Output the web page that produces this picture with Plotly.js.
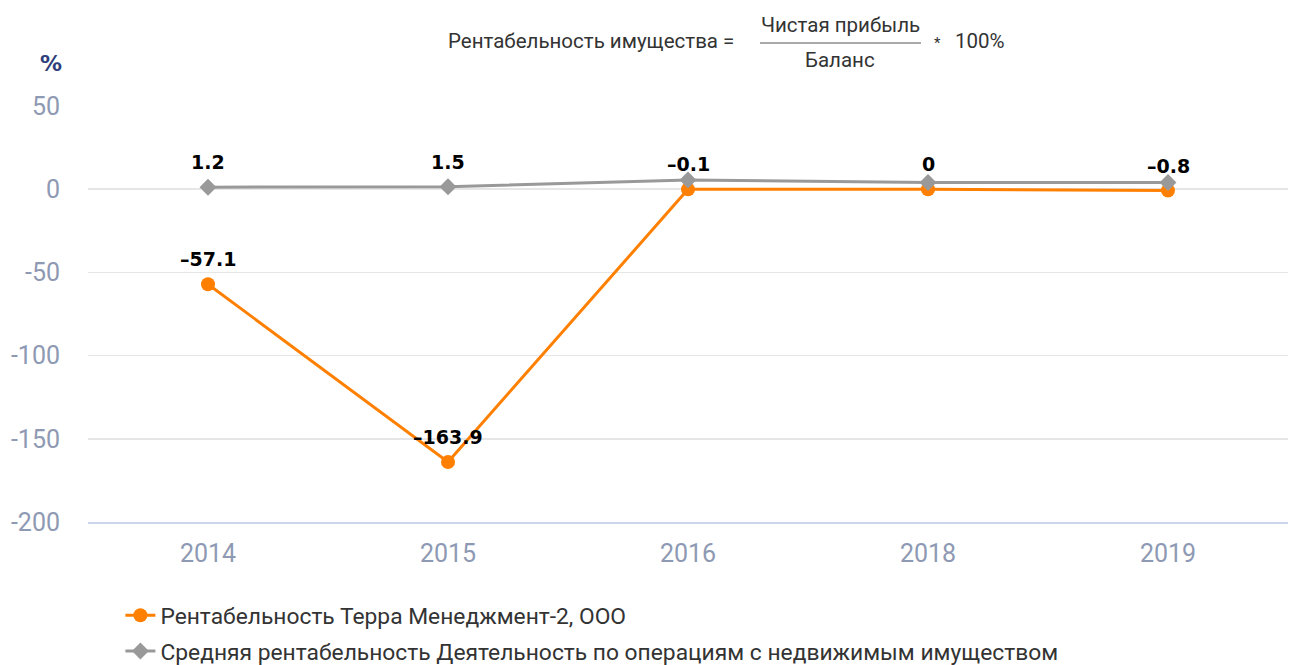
<!DOCTYPE html>
<html>
<head>
<meta charset="utf-8">
<script src="https://cdn.plot.ly/plotly-3.0.1.min.js"></script>
<style>html,body{margin:0;padding:0;background:#fff;}#chart{width:1289px;height:665px;}</style>
</head>
<body>
<div id="chart"></div>
<script>
const years = ['2014', '2015', '2016', '2018', '2019'];
const companyValues = [-57.1, -163.9, -0.1, 0, -0.8];
const industryValues = [1.2, 1.5, 5.5, 4.0, 4.0];
const companyLabels = ['–57.1', '–163.9', '–0.1', '0', '–0.8'];
const industryLabels = ['1.2', '1.5', '', '', ''];
const yTicks = [50, 0, -50, -100, -150, -200];
const yTickLabels = ['50', '0', '-50', '-100', '-150', '-200'];

const labelFont = {family: 'DejaVu Sans, sans-serif', size: 19, color: '#000'};

const traces = [
  {
    x: years, y: companyValues, type: 'scatter', mode: 'lines+markers',
    name: 'Рентабельность Терра Менеджмент-2, ООО',
    legendgroup: 'a',
    line: {color: '#ff8000', width: 3},
    marker: {symbol: 'circle', size: 14, color: '#ff8000'},
    hoverinfo: 'x+y'
  },
  {
    x: years, y: industryValues, type: 'scatter', mode: 'lines+markers',
    name: 'Средняя рентабельность Деятельность по операциям с недвижимым имуществом',
    legendgroup: 'b',
    line: {color: '#999999', width: 3},
    marker: {symbol: 'diamond', size: 13, color: '#999999'},
    hoverinfo: 'x+y'
  }
];

const textFont = {family: 'Roboto, sans-serif', size: 20.5, color: '#333'};
const py = v => (522 - v) / 416;
const px = v => (v - 88) / 1200;

const dataLabels = [];
function addLabels(vals, labels) {
  vals.forEach((v, i) => {
    if (!labels[i]) return;
    dataLabels.push({x: i, y: v, xref: 'x', yref: 'y', text: '<b>' + labels[i] + '</b>',
      showarrow: false, xanchor: 'center', yanchor: 'middle', yshift: 25, font: labelFont});
  });
}
addLabels(industryValues, industryLabels);
addLabels(companyValues, companyLabels);

const layout = {
  width: 1289, height: 665,
  margin: {l: 88, r: 1, t: 106, b: 143, autoexpand: false},
  paper_bgcolor: '#fff', plot_bgcolor: '#fff',
  showlegend: true,
  legend: {
    orientation: 'v', x: 0.027, xanchor: 'left', y: py(594), yanchor: 'top',
    traceorder: 'grouped',
    font: {family: 'Roboto, sans-serif', size: 22.8, color: '#333'},
    tracegroupgap: 3, itemwidth: 30
  },
  xaxis: {
    type: 'category', range: [-0.5, 4.5], fixedrange: true,
    showgrid: false, zeroline: false,
    showline: true, linecolor: '#ccd6eb', linewidth: 2,
    ticks: 'outside', ticklen: 8, tickcolor: 'rgba(0,0,0,0)',
    tickfont: {family: 'Roboto, sans-serif', size: 25, color: '#8e99b3'}
  },
  yaxis: {
    range: [-200, 50], fixedrange: true,
    tickvals: yTicks, ticktext: yTickLabels,
    showgrid: true, gridcolor: '#e6e6e6', gridwidth: 1.5, zeroline: false,
    ticks: 'outside', ticklen: 22, tickcolor: 'rgba(0,0,0,0)',
    tickfont: {family: 'Roboto, sans-serif', size: 25, color: '#8e99b3'}
  },
  annotations: dataLabels.concat([
    {xref: 'paper', yref: 'paper', x: px(51), y: py(63), xanchor: 'center', yanchor: 'middle',
     text: '<b>%</b>', showarrow: false,
     font: {family: 'DejaVu Sans, sans-serif', size: 22, color: '#2e3f7c'}},
    {xref: 'paper', yref: 'paper', x: px(736), y: py(41), xanchor: 'right', yanchor: 'middle',
     text: 'Рентабельность имущества =', showarrow: false, font: textFont},
    {xref: 'paper', yref: 'paper', x: px(840), y: py(25), xanchor: 'center', yanchor: 'middle',
     text: 'Чистая прибыль', showarrow: false, font: textFont},
    {xref: 'paper', yref: 'paper', x: px(840), y: py(60), xanchor: 'center', yanchor: 'middle',
     text: 'Баланс', showarrow: false, font: textFont},
    {xref: 'paper', yref: 'paper', x: px(932), y: py(43), xanchor: 'left', yanchor: 'middle',
     text: '*', showarrow: false, font: {family: 'Roboto, sans-serif', size: 15, color: '#333'}},
    {xref: 'paper', yref: 'paper', x: px(953), y: py(41), xanchor: 'left', yanchor: 'middle',
     text: '100%', showarrow: false, font: textFont}
  ]),
  shapes: [
    {type: 'line', xref: 'paper', yref: 'paper',
     x0: px(760), x1: px(921), y0: py(43), y1: py(43),
     line: {color: '#555', width: 1}}
  ]
};

Plotly.newPlot('chart', traces, layout, {displayModeBar: false, staticPlot: true});
</script>
</body>
</html>
